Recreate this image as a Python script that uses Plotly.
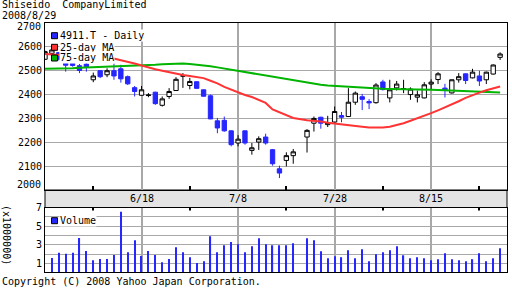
import plotly.graph_objects as go

# ---------------- data ----------------
dates = [
    "2008-05-29", "2008-05-30",
    "2008-06-02", "2008-06-03", "2008-06-04", "2008-06-05", "2008-06-06",
    "2008-06-09", "2008-06-10", "2008-06-11", "2008-06-12", "2008-06-13",
    "2008-06-16", "2008-06-17", "2008-06-18", "2008-06-19", "2008-06-20",
    "2008-06-23", "2008-06-24", "2008-06-25", "2008-06-26", "2008-06-27",
    "2008-06-30", "2008-07-01", "2008-07-02", "2008-07-03", "2008-07-04",
    "2008-07-07", "2008-07-08", "2008-07-09", "2008-07-10", "2008-07-11",
    "2008-07-14", "2008-07-15", "2008-07-16", "2008-07-17", "2008-07-18",
    "2008-07-22", "2008-07-23", "2008-07-24", "2008-07-25",
    "2008-07-28", "2008-07-29", "2008-07-30", "2008-07-31", "2008-08-01",
    "2008-08-04", "2008-08-05", "2008-08-06", "2008-08-07", "2008-08-08",
    "2008-08-11", "2008-08-12", "2008-08-13", "2008-08-14", "2008-08-15",
    "2008-08-18", "2008-08-19", "2008-08-20", "2008-08-21", "2008-08-22",
    "2008-08-25", "2008-08-26", "2008-08-27", "2008-08-28", "2008-08-29",
]

open_ = [2548, 2573, 2576, 2531, 2531, 2521, 2528, 2462, 2500, 2483, 2500, 2508, 2475, 2429,
         2397, 2396, 2410, 2355, 2392, 2417, 2477, 2438, 2454, 2420, 2395, 2290, 2292, 2248,
         2197, 2248, 2166, 2201, 2222, 2169, 2089, 2124, 2144,
         2222, 2280, 2305, 2274, 2285, 2312, 2308, 2368, 2391, 2371, 2366, 2453, 2386, 2428,
         2423, 2400, 2389, 2386, 2444, 2463, 2427, 2407, 2462, 2487, 2470, 2478, 2462, 2486, 2556]
high = [2584, 2590, 2578, 2535, 2535, 2528, 2535, 2492, 2503, 2510, 2530, 2525, 2480, 2436,
        2436, 2406, 2412, 2392, 2427, 2473, 2490, 2470, 2455, 2421, 2400, 2302, 2308, 2250,
        2230, 2250, 2197, 2225, 2236, 2172, 2102, 2158, 2172,
        2255, 2308, 2307, 2311, 2350, 2327, 2427, 2413, 2403, 2381, 2448, 2462, 2462, 2457,
        2462, 2430, 2417, 2452, 2464, 2494, 2445, 2463, 2490, 2488, 2508, 2500, 2496, 2526, 2577]
low = [2545, 2570, 2543, 2496, 2517, 2490, 2496, 2452, 2469, 2473, 2462, 2450, 2440, 2392,
       2396, 2389, 2357, 2350, 2382, 2415, 2428, 2422, 2425, 2392, 2297, 2238, 2244, 2183,
       2183, 2190, 2148, 2168, 2190, 2102, 2050, 2099, 2110,
       2157, 2245, 2257, 2264, 2282, 2284, 2306, 2357, 2335, 2339, 2362, 2417, 2367, 2417,
       2406, 2378, 2367, 2384, 2420, 2444, 2388, 2404, 2450, 2444, 2468, 2436, 2444, 2484, 2545]
close = [2580, 2587, 2548, 2523, 2522, 2501, 2515, 2478, 2475, 2500, 2478, 2466, 2445, 2413,
         2420, 2398, 2362, 2382, 2413, 2464, 2479, 2455, 2426, 2393, 2298, 2260, 2248, 2190,
         2213, 2197, 2177, 2215, 2197, 2110, 2071, 2144, 2160,
         2250, 2300, 2280, 2283, 2329, 2305, 2368, 2406, 2380, 2365, 2440, 2421, 2420, 2444,
         2425, 2423, 2399, 2441, 2452, 2487, 2420, 2462, 2475, 2459, 2494, 2457, 2494, 2524, 2570]

ma25 = [2570, 2568, 2566, 2565, 2563, 2561, 2559, 2557, 2555, 2553, 2551, 2544, 2538, 2530,
        2522, 2513, 2506, 2500, 2493, 2487, 2482, 2478, 2474, 2469, 2458, 2447, 2432, 2421,
        2408, 2398, 2390, 2377, 2365, 2338, 2327, 2314, 2302,
        2292, 2290, 2287, 2282, 2278, 2275, 2272, 2268, 2265, 2262, 2261, 2262, 2265, 2272,
        2280, 2290, 2300, 2311, 2322, 2334, 2346, 2358, 2372, 2386, 2398, 2408, 2418, 2426, 2434]
ma75 = [2508, 2508, 2508, 2508, 2510, 2512, 2513, 2513, 2514, 2515, 2517, 2519, 2521, 2522,
        2523, 2524, 2525, 2527, 2529, 2531, 2530, 2528, 2526, 2522, 2519, 2514, 2509, 2505,
        2500, 2495, 2490, 2485, 2480, 2475, 2471, 2466, 2461,
        2450, 2445, 2441, 2438, 2436, 2434, 2431, 2429, 2428, 2427, 2425, 2424, 2423, 2423,
        2423, 2422, 2422, 2421, 2420, 2419, 2418, 2417, 2416, 2414, 2413, 2412, 2411, 2410, 2409]

# volume in millions of shares
volume = [None, 1.6, 2.15, 2.05, 2.15, 3.75, 2.35, 1.35, 1.5, 1.5, 1.93, 6.55, 2.22, 3.5,
          1.82, 2.35, 1.93, 1.15, 1.5, 2.75, 2.22, 1.68, 1.05, 1.25, 3.93, 2.22, 2.97, 3.32,
          3.07, 2.22, 2.86, 3.72, 3.07, 2.97, 2.97, 2.97, 3.18,
          3.72, 3.5, 2.32, 1.57, 1.79, 1.68, 2.43, 1.57, 2.54, 1.25, 2.0, 2.22, 2.43, 2.86,
          1.89, 1.57, 1.68, 1.57, 1.36, 1.47, 2.11, 1.47, 1.36, 1.25, 1.47, 2.11, 1.25, 1.57, 2.64]

date_tick_vals = ["2008-06-18", "2008-07-08", "2008-07-28", "2008-08-15"]
date_tick_text = ["6/18", "7/8", "7/28", "8/15"]
minor_tick_vals = ["2008-06-09", "2008-06-27", "2008-07-17", "2008-08-06", "2008-08-26"]
price_ticks = [2000, 2100, 2200, 2300, 2400, 2500, 2600, 2700]
price_text = ["2000", "2100", "2200", "2300", "2400", "2500", "2600", "2700"]
vol_ticks = [1, 2, 3, 4, 5, 6, 7]
vol_text = ["1", "", "3", "", "5", "", "7"]

title_text = "Shiseido\u00a0 CompanyLimited"
date_text = "2008/8/29"
copyright_text = "Copyright (C) 2008 Yahoo Japan Corporation."
legend_labels = ["4911.T - Daily", "25-day MA", "75-day MA", "Volume"]

# ---------------- style ----------------
BLUE = "#2626ff"
RED = "#ff3333"
GREEN = "#00b400"
GRID = "#a8a8a8"
FONT = dict(family="DejaVu Sans Mono", size=10, color="black")
DAY_MS = 86400000

W, H = 512, 288
L, R, T, B = 45, 5, 23, 16
PW, PH = W - L - R, H - T - B

PRICE_RANGE = [2000, 2700]
VOL_RANGE = [0.1, 7]


def fx(px):
    return (px - L) / PW


def fy(py):
    return (H - B - py) / PH


main_dom = [fy(190), 1.0]
vol_dom = [0.0, fy(207.5)]
main_h = (main_dom[1] - main_dom[0]) * PH
vol_h = (vol_dom[1] - vol_dom[0]) * PH
p_per_px = (PRICE_RANGE[1] - PRICE_RANGE[0]) / main_h
v_per_px = (VOL_RANGE[1] - VOL_RANGE[0]) / vol_h
line_w = 0.15 * DAY_MS  # about one pixel on this date axis

fig = go.Figure()

# vertical date grid lines as hair-thin bars (drawn first, under the data)
n_t = len(date_tick_vals)
fig.add_trace(go.Bar(x=date_tick_vals, y=[PRICE_RANGE[1] - PRICE_RANGE[0]] * n_t,
                     base=PRICE_RANGE[0], width=line_w,
                     marker=dict(color=GRID, line=dict(width=0)),
                     xaxis="x", yaxis="y", hoverinfo="skip"))
fig.add_trace(go.Bar(x=date_tick_vals, y=[VOL_RANGE[1] - VOL_RANGE[0]] * n_t,
                     base=VOL_RANGE[0], width=line_w,
                     marker=dict(color=GRID, line=dict(width=0)),
                     xaxis="x2", yaxis="y2", hoverinfo="skip"))
# minor ticks, inside the panels
n_m = len(minor_tick_vals)
fig.add_trace(go.Bar(x=minor_tick_vals, y=[4 * p_per_px] * n_m, base=PRICE_RANGE[0],
                     width=line_w, marker=dict(color="black", line=dict(width=0)),
                     xaxis="x", yaxis="y", hoverinfo="skip"))
fig.add_trace(go.Bar(x=minor_tick_vals, y=[3 * v_per_px] * n_m,
                     base=VOL_RANGE[1] - 3 * v_per_px,
                     width=line_w, marker=dict(color="black", line=dict(width=0)),
                     xaxis="x2", yaxis="y2", hoverinfo="skip"))

fig.add_trace(go.Scatter(x=dates, y=ma75, mode="lines", line=dict(color=GREEN, width=2),
                         xaxis="x", yaxis="y", hoverinfo="skip"))
fig.add_trace(go.Scatter(x=dates, y=ma25, mode="lines", line=dict(color=RED, width=2),
                         xaxis="x", yaxis="y", hoverinfo="skip"))
fig.add_trace(go.Candlestick(
    x=dates, open=open_, high=high, low=low, close=close,
    increasing=dict(line=dict(color="black", width=1), fillcolor="white"),
    decreasing=dict(line=dict(color=BLUE, width=1), fillcolor=BLUE),
    whiskerwidth=0, xaxis="x", yaxis="y"))
fig.add_trace(go.Bar(x=dates, y=volume, marker=dict(color=BLUE, line=dict(width=0)),
                     width=0.17 * DAY_MS, xaxis="x2", yaxis="y2"))

xcommon = dict(
    type="date", range=["2008-05-29", "2008-09-01"],
    rangebreaks=[dict(bounds=["sat", "mon"])],
    showgrid=False, zeroline=False, showticklabels=False,
    showline=True, linecolor="black", linewidth=1, mirror=True, ticks="",
    fixedrange=True,
)

fig.update_layout(
    width=W, height=H, margin=dict(l=L, r=R, t=T, b=B, pad=0),
    paper_bgcolor="white", plot_bgcolor="white", showlegend=False,
    font=FONT, boxgap=0.37, boxgroupgap=0, barmode="overlay",
    xaxis=dict(**xcommon, anchor="y", rangeslider=dict(visible=False)),
    xaxis2=dict(**xcommon, anchor="y2"),
    yaxis=dict(domain=main_dom, range=PRICE_RANGE, tickmode="array", tickvals=price_ticks,
               ticktext=[""] + price_text[1:-1] + [""], tickfont=FONT,
               showgrid=True, gridcolor=GRID, zeroline=False, showline=True,
               linecolor="black", mirror=True, ticks="", fixedrange=True),
    yaxis2=dict(domain=vol_dom, range=VOL_RANGE, tickmode="array", tickvals=vol_ticks,
                ticktext=vol_text, tickfont=FONT,
                showgrid=True, gridcolor=GRID, zeroline=False, showline=True,
                linecolor="black", mirror=True, ticks="", fixedrange=True),
)

shapes = []
annotations = []

# grey date band between the panels
shapes.append(dict(type="rect", xref="paper", yref="paper", x0=0, x1=1,
                   y0=vol_dom[1], y1=main_dom[0], fillcolor="#e4e4e4",
                   line=dict(color="black", width=1), layer="below"))
for d, t in zip(date_tick_vals, date_tick_text):
    annotations.append(dict(text=t, x=d, xref="x", y=fy(198.5), yref="paper",
                            xanchor="center", yanchor="middle", showarrow=False, font=FONT))

# title lines
annotations.append(dict(text=title_text, x=fx(0), y=fy(5.0), xref="paper", yref="paper",
                        xanchor="left", yanchor="middle", showarrow=False, font=FONT))
annotations.append(dict(text=date_text, x=fx(0), y=fy(15.5), xref="paper", yref="paper",
                        xanchor="left", yanchor="middle", showarrow=False, font=FONT))
annotations.append(dict(text=copyright_text, x=fx(0), y=fy(281.5), xref="paper", yref="paper",
                        xanchor="left", yanchor="middle", showarrow=False, font=FONT))
# end labels of the price axis, nudged inside like the original
annotations.append(dict(text=price_text[-1], x=fx(42.5), y=fy(26.7), xref="paper", yref="paper",
                        xanchor="right", yanchor="middle", showarrow=False, font=FONT))
annotations.append(dict(text=price_text[0], x=fx(42.5), y=fy(184.3), xref="paper", yref="paper",
                        xanchor="right", yanchor="middle", showarrow=False, font=FONT))
# volume axis caption
annotations.append(dict(text="(x1000000)", x=fx(7), y=fy(235), xref="paper", yref="paper",
                        xanchor="center", yanchor="middle", textangle=90, showarrow=False,
                        font=FONT))

# custom legend
legend_rows = [(legend_labels[0], BLUE, 35.7), (legend_labels[1], RED, 47.3),
               (legend_labels[2], GREEN, 58.0), (legend_labels[3], BLUE, 220.7)]
for label, color, yc in legend_rows:
    shapes.append(dict(type="rect", xref="paper", yref="paper",
                       x0=fx(51.5), x1=fx(57.5), y0=fy(yc + 3), y1=fy(yc - 3),
                       fillcolor=color, line=dict(color="black", width=1), layer="above"))
    annotations.append(dict(text=label, x=fx(59), y=fy(yc), xref="paper", yref="paper",
                            xanchor="left", yanchor="middle", showarrow=False, font=FONT,
                            bgcolor="white", borderpad=0))

fig.update_layout(shapes=shapes, annotations=annotations)
fig.write_html("out.html")
